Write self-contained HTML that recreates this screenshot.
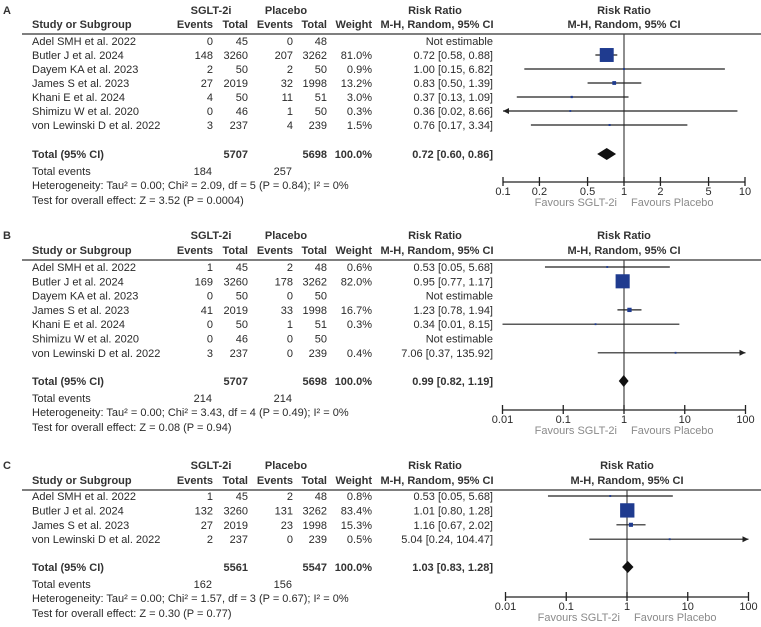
<!DOCTYPE html>
<html><head><meta charset="utf-8">
<style>
html,body{margin:0;padding:0;background:#fff;}
svg{display:block;font-family:"Liberation Sans",Arial,sans-serif;}
.t{font-size:11px;fill:#2a2a2a;}
.b{font-weight:bold;fill:#333;}
.g{fill:#8a8a8a;}
</style></head>
<body>
<svg id="chart" width="761" height="627" viewBox="0 0 761 627" xmlns="http://www.w3.org/2000/svg"></svg>
<script>
// ---- Panel A data ----
const studiesA=["Adel SMH et al. 2022","Butler J et al. 2024","Dayem KA et al. 2023","James S et al. 2023","Khani E et al. 2024","Shimizu W et al. 2020","von Lewinski D et al. 2022"];
const evTA=[0,148,2,27,4,0,3];
const totTA=[45,3260,50,2019,50,46,237];
const evCA=[0,207,2,32,11,1,4];
const totCA=[48,3262,50,1998,51,50,239];
const weightA=[null,81.0,0.9,13.2,3.0,0.3,1.5];
const rrA=[null,0.72,1.00,0.83,0.37,0.36,0.76];
const loA=[null,0.58,0.15,0.50,0.13,0.02,0.17];
const hiA=[null,0.88,6.82,1.39,1.09,8.66,3.34];
const totalA=[0.72,0.60,0.86];
const sumA=[5707,5698,184,257];
const hetA="Heterogeneity: Tau² = 0.00; Chi² = 2.09, df = 5 (P = 0.84); I² = 0%";
const testA="Test for overall effect: Z = 3.52 (P = 0.0004)";
const ticksA=[0.1,0.2,0.5,1,2,5,10];
const tickLabelsA=["0.1","0.2","0.5","1","2","5","10"];
// ---- Panel B data ----
const studiesB=["Adel SMH et al. 2022","Butler J et al. 2024","Dayem KA et al. 2023","James S et al. 2023","Khani E et al. 2024","Shimizu W et al. 2020","von Lewinski D et al. 2022"];
const evTB=[1,169,0,41,0,0,3];
const totTB=[45,3260,50,2019,50,46,237];
const evCB=[2,178,0,33,1,0,0];
const totCB=[48,3262,50,1998,51,50,239];
const weightB=[0.6,82.0,null,16.7,0.3,null,0.4];
const rrB=[0.53,0.95,null,1.23,0.34,null,7.06];
const loB=[0.05,0.77,null,0.78,0.01,null,0.37];
const hiB=[5.68,1.17,null,1.94,8.15,null,135.92];
const totalB=[0.99,0.82,1.19];
const sumB=[5707,5698,214,214];
const hetB="Heterogeneity: Tau² = 0.00; Chi² = 3.43, df = 4 (P = 0.49); I² = 0%";
const testB="Test for overall effect: Z = 0.08 (P = 0.94)";
const ticksB=[0.01,0.1,1,10,100];
const tickLabelsB=["0.01","0.1","1","10","100"];
// ---- Panel C data ----
const studiesC=["Adel SMH et al. 2022","Butler J et al. 2024","James S et al. 2023","von Lewinski D et al. 2022"];
const evTC=[1,132,27,2];
const totTC=[45,3260,2019,237];
const evCC=[2,131,23,0];
const totCC=[48,3262,1998,239];
const weightC=[0.8,83.4,15.3,0.5];
const rrC=[0.53,1.01,1.16,5.04];
const loC=[0.05,0.80,0.67,0.24];
const hiC=[5.68,1.28,2.02,104.47];
const totalC=[1.03,0.83,1.28];
const sumC=[5561,5547,162,156];
const hetC="Heterogeneity: Tau² = 0.00; Chi² = 1.57, df = 3 (P = 0.67); I² = 0%";
const testC="Test for overall effect: Z = 0.30 (P = 0.77)";
const ticksC=[0.01,0.1,1,10,100];
const tickLabelsC=["0.01","0.1","1","10","100"];

const svg=document.getElementById('chart');
const NS="http://www.w3.org/2000/svg";
function mk(tag,attrs,parent){const e=document.createElementNS(NS,tag);for(const k in attrs)e.setAttribute(k,attrs[k]);(parent||svg).appendChild(e);return e;}
function txt(s,x,y,cls,anchor,parent){const e=mk('text',{x:x,y:y,class:cls,'text-anchor':anchor||'start'},parent);e.textContent=s;return e;}
function fmt(v){return v.toFixed(2);}

function panel(p){
  const g=mk('g',{});
  
  
  const X=v=>p.cx+Math.log10(v)*p.dec;
  const xmin=X(p.ticks[0]), xmax=X(p.ticks[p.ticks.length-1]);
  const b=p.hy+4;
  let e=txt(p.letter,3,p.sy+4,'t b','start',g);
  txt('SGLT-2i',211,p.sy+4,'t b','middle',g);
  txt('Placebo',286,p.sy+4,'t b','middle',g);
  txt('Risk Ratio',435,p.sy+4,'t b','middle',g);
  txt('Risk Ratio',p.cx,p.sy+4,'t b','middle',g);
  txt('Study or Subgroup',32,b,'t b','start',g);
  txt('Events',213,b,'t b','end',g);txt('Total',248,b,'t b','end',g);
  txt('Events',293,b,'t b','end',g);txt('Total',327,b,'t b','end',g);
  txt('Weight',372,b,'t b','end',g);
  txt('M-H, Random, 95% CI',437,b,'t b','middle',g);
  txt('M-H, Random, 95% CI',p.cx,b,'t b','middle',g);
  e=mk('line',{x1:22,x2:761,y1:p.hy+10,y2:p.hy+10,stroke:'#333','stroke-width':1.3},g);
  
  e=mk('line',{x1:p.cx,x2:p.cx,y1:p.hy+10,y2:p.ay,stroke:'#444','stroke-width':1.2},g);
  
  p.studies.forEach((s,i)=>{
    const y=p.ry+i*p.step, by=y+4;
    const r=mk('g',{},g);
    
    
    txt(s,32,by,'t','start',r);
    txt(String(p.evT[i]),213,by,'t','end',r);txt(String(p.totT[i]),248,by,'t','end',r);
    txt(String(p.evC[i]),293,by,'t','end',r);txt(String(p.totC[i]),327,by,'t','end',r);
    if(p.w[i]!=null)txt(p.w[i].toFixed(1)+'%',372,by,'t','end',r);
    if(p.rr[i]==null){txt('Not estimable',493,by,'t','end',r);return;}
    txt(fmt(p.rr[i])+' ['+fmt(p.lo[i])+', '+fmt(p.hi[i])+']',493,by,'t','end',r);
    let x1=X(p.lo[i]),x2=X(p.hi[i]);
    const cl=x1<xmin, cr=x2>xmax;
    x1=Math.max(x1,xmin);x2=Math.min(x2,xmax);
    const ci=mk('line',{x1:x1,x2:x2,y1:y,y2:y,stroke:'#222','stroke-width':1.2},r);
    
    
    if(cl){const a=mk('path',{d:`M${x1} ${y} l6 -3 v6 z`,fill:'#222'},r);}
    if(cr){const a=mk('path',{d:`M${x2} ${y} l-6 -3 v6 z`,fill:'#222'},r);}
    const sz=1.8+p.w[i]*0.15;
    const sq=mk('rect',{x:X(p.rr[i])-sz/2,y:y-sz/2,width:sz,height:sz,fill:'#1f3b8f'},r);
    
    
  });
  const tb=p.ty+4;
  txt('Total (95% CI)',32,tb,'t b','start',g);
  txt(String(p.sum[0]),248,tb,'t b','end',g);
  txt(String(p.sum[1]),327,tb,'t b','end',g);
  txt('100.0%',372,tb,'t b','end',g);
  txt(fmt(p.tot[0])+' ['+fmt(p.tot[1])+', '+fmt(p.tot[2])+']',493,tb,'t b','end',g);
  const dl=X(p.tot[1]),dr=X(p.tot[2]),dc=X(p.tot[0]);
  e=mk('path',{d:`M${dl} ${p.ty} L${dc} ${p.ty-6} L${dr} ${p.ty} L${dc} ${p.ty+6} Z`,fill:'#111'},g);
  
  txt('Total events',32,p.ty+21,'t','start',g);
  txt(String(p.sum[2]),212,p.ty+21,'t','end',g);
  txt(String(p.sum[3]),292,p.ty+21,'t','end',g);
  txt(p.het,32,p.ty+35,'t','start',g);
  txt(p.test,32,p.ty+50,'t','start',g);
  e=mk('line',{x1:xmin,x2:xmax,y1:p.ay,y2:p.ay,stroke:'#222','stroke-width':1.3},g);
  
  p.ticks.forEach((t,i)=>{
    mk('line',{x1:X(t),x2:X(t),y1:p.ay-5,y2:p.ay+4,stroke:'#222','stroke-width':1.3},g);
    const tl=txt(p.tl[i],X(t),p.ay+13,'t','middle',g);
    
  });
  e=txt('Favours SGLT-2i',p.cx-7,p.ay+24,'t g','end',g);
  e=txt('Favours Placebo',p.cx+7,p.ay+24,'t g','start',g);
}

panel({letter:'A',sy:10,hy:24,ry:41,step:14,ty:154,ay:182,cx:624,dec:121,
  studies:studiesA,evT:evTA,totT:totTA,evC:evCA,totC:totCA,w:weightA,rr:rrA,lo:loA,hi:hiA,
  tot:totalA,sum:sumA,het:hetA,test:testA,ticks:ticksA,tl:tickLabelsA});
panel({letter:'B',sy:235,hy:250,ry:267,step:14.3,ty:381,ay:410,cx:624,dec:60.75,
  studies:studiesB,evT:evTB,totT:totTB,evC:evCB,totC:totCB,w:weightB,rr:rrB,lo:loB,hi:hiB,
  tot:totalB,sum:sumB,het:hetB,test:testB,ticks:ticksB,tl:tickLabelsB});
panel({letter:'C',sy:465,hy:480,ry:496,step:14.4,ty:567,ay:597,cx:627,dec:60.75,
  studies:studiesC,evT:evTC,totT:totTC,evC:evCC,totC:totCC,w:weightC,rr:rrC,lo:loC,hi:hiC,
  tot:totalC,sum:sumC,het:hetC,test:testC,ticks:ticksC,tl:tickLabelsC});
</script>
</body></html>
